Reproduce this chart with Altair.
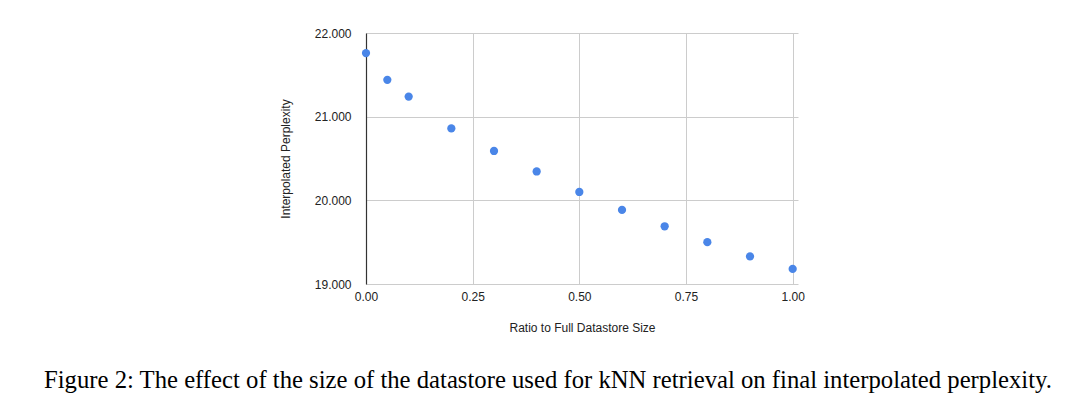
import altair as alt
import pandas as pd

ratios = [0.0, 0.05, 0.1, 0.2, 0.3, 0.4, 0.5, 0.6, 0.7, 0.8, 0.9, 1.0]
perplexity = [21.76, 21.44, 21.24, 20.86, 20.59, 20.345, 20.10, 19.885, 19.69, 19.50, 19.33, 19.18]
x_ticks = [0.0, 0.25, 0.5, 0.75, 1.0]
y_ticks = [19, 20, 21, 22]
caption = "Figure 2: The effect of the size of the datastore used for kNN retrieval on final interpolated perplexity."

df = pd.DataFrame({"ratio": ratios, "ppl": perplexity})

chart = alt.Chart(df).mark_circle(size=68, opacity=1, color="#4a86e8").encode(
    x=alt.X("ratio:Q",
            scale=alt.Scale(domain=[0, 1.0125], nice=False, zero=False),
            axis=alt.Axis(values=x_ticks, format=".2f", title="Ratio to Full Datastore Size",
                          domain=False, ticks=False, labelPadding=7, labelFlush=False,
                          labelFont="Liberation Sans", labelFontSize=12, labelColor="#222",
                          titleFont="Liberation Sans", titleFontSize=12, titleFontWeight="normal",
                          titleColor="#222", titlePadding=20,
                          gridColor="#cccccc", gridWidth=1)),
    y=alt.Y("ppl:Q",
            scale=alt.Scale(domain=[19, 22], nice=False, zero=False),
            axis=alt.Axis(values=y_ticks, format=".3f", title="Interpolated Perplexity",
                          domain=True, domainColor="#333333", domainWidth=1.2, ticks=False,
                          labelPadding=15, labelFlush=False,
                          labelFont="Liberation Sans", labelFontSize=12, labelColor="#222",
                          titleFont="Liberation Sans", titleFontSize=12, titleFontWeight="normal",
                          titleColor="#222", titlePadding=22,
                          gridColor="#cccccc", gridWidth=1)),
).properties(
    width=432,
    height=251,
    autosize=alt.AutoSizeParams(type="none"),
    padding={"left": 358, "top": 25, "right": 274, "bottom": 120},
    title=alt.TitleParams(caption, orient="bottom", anchor="middle", frame="group",
                          font="Liberation Serif", fontSize=24.7, fontWeight="normal",
                          color="#000", offset=35, dx=-34),
).configure_view(stroke=None)

chart.save("out.html", embed_options={"renderer": "svg", "actions": False})
